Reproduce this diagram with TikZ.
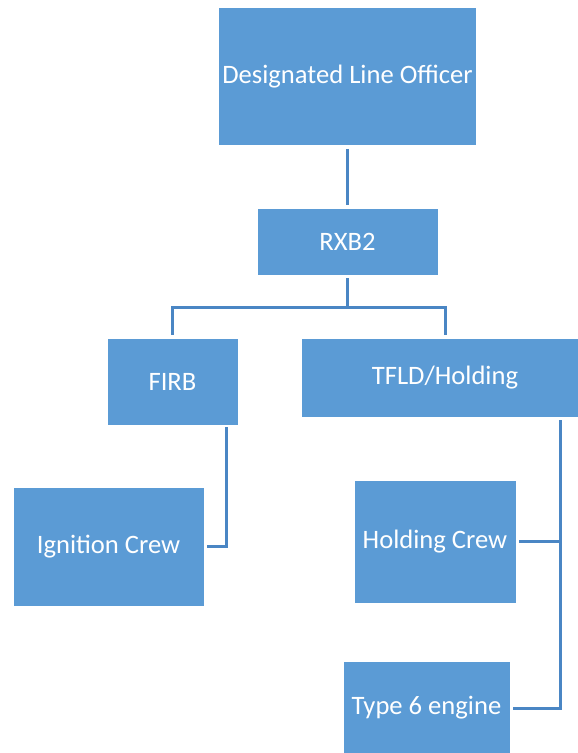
\documentclass[tikz,border=0pt]{standalone}
\usepackage{fontspec}
\setmainfont{Carlito}
\definecolor{boxfill}{HTML}{5B9BD5}
\definecolor{linecol}{HTML}{4A86C4}
\begin{document}
\begin{tikzpicture}[x=1pt,y=-1pt,
  orgbox/.style={rectangle,fill=boxfill,draw=white,line width=0.6pt,text=white,
    font=\fontsize{26.6}{30}\selectfont,inner sep=0pt,anchor=center},
  conn/.style={draw=linecol,line width=3pt}]
\useasboundingbox (0,0) rectangle (578,753);
\node[orgbox,minimum width=258pt,minimum height=138pt] (dlo) at (347.5,76.5) {Designated Line Officer};
\node[orgbox,minimum width=181pt,minimum height=67pt] (rxb) at (347.5,241.5) {RXB2};
\node[orgbox,minimum width=131pt,minimum height=87pt] (firb) at (172.5,381.5) {FIRB};
\node[orgbox,minimum width=288pt,minimum height=79pt] (tfld) at (445,377.5) {TFLD/Holding};
\node[orgbox,minimum width=191pt,minimum height=119pt] (ign) at (108.5,546.5) {Ignition Crew};
\node[orgbox,minimum width=162pt,minimum height=123pt] (hold) at (435,541.5) {Holding Crew};
\node[orgbox,minimum width=167pt,minimum height=94pt] (t6) at (426.5,708) {Type 6 engine};
\draw[conn] ([yshift=-3pt]dlo.south) -- ([yshift=3pt]rxb.north);
\coordinate (hub) at ([yshift=-32pt]rxb.south);
\draw[conn] ([yshift=-3pt]rxb.south) -- (hub);
\draw[conn] ([yshift=3pt]firb.north) |- (hub) -| ([yshift=3pt]tfld.north);
\draw[conn] ([xshift=54pt,yshift=-2pt]firb.south) |- ([xshift=3pt]ign.east);
\coordinate (tr) at ([xshift=115pt,yshift=-3pt]tfld.south);
\draw[conn] (tr) |- ([xshift=3pt]hold.east);
\draw[conn] (tr) |- ([xshift=3pt]t6.east);
\end{tikzpicture}
\end{document}
